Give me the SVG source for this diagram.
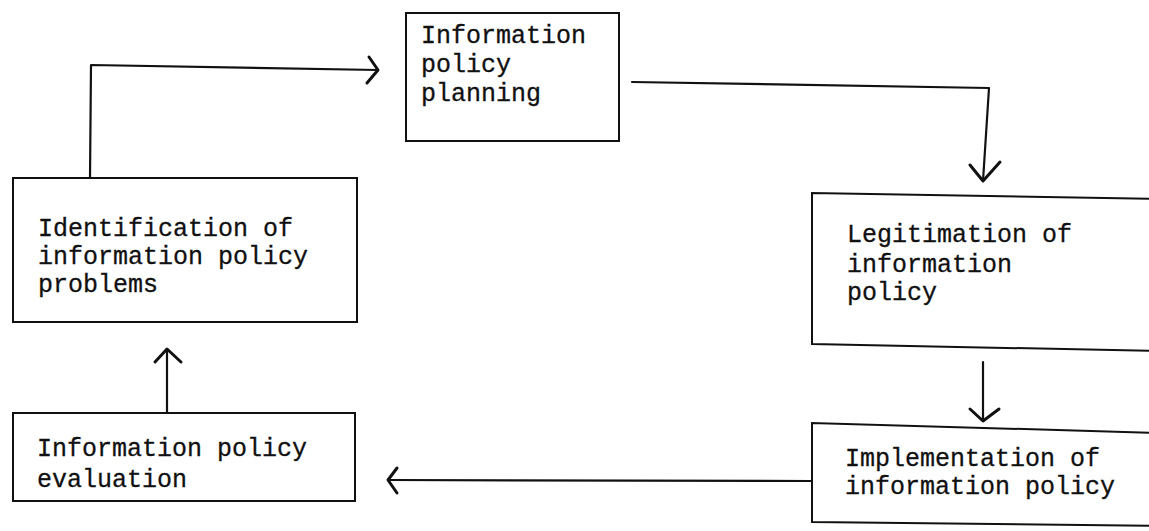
<svg xmlns="http://www.w3.org/2000/svg" width="1149" height="531" viewBox="0 0 1149 531">
<style>
.box{fill:none;stroke:#111;stroke-width:2}
.t{font-family:"Liberation Mono","Courier New",monospace;font-size:25px;fill:#111;stroke:#111;stroke-width:0.3}
.c{fill:none;stroke:#111;stroke-width:2.2;stroke-linecap:round;stroke-linejoin:round}
.h{fill:none;stroke:#111;stroke-width:3;stroke-linecap:round;stroke-linejoin:round}
</style>
<rect width="1149" height="531" fill="#fff"/>
<g id="planning">
<rect class="box" x="406" y="13" width="213" height="128"/>
<text class="t" x="421" y="43">Information</text>
<text class="t" x="421" y="72">policy</text>
<text class="t" x="421" y="101">planning</text>
</g>
<g id="identification">
<rect class="box" x="13" y="178" width="344" height="144"/>
<text class="t" x="38" y="236">Identification of</text>
<text class="t" x="38" y="264">information policy</text>
<text class="t" x="38" y="292">problems</text>
</g>
<g id="legitimation">
<path class="box" d="M1160,199 L812,193 L812,344 L1160,351"/>
<text class="t" x="847" y="242">Legitimation of</text>
<text class="t" x="847" y="272">information</text>
<text class="t" x="847" y="300">policy</text>
</g>
<g id="evaluation">
<rect class="box" x="13" y="413" width="342" height="88"/>
<text class="t" x="37" y="456">Information policy</text>
<text class="t" x="37" y="487">evaluation</text>
</g>
<g id="implementation">
<path class="box" d="M1160,433 L812,423 L812,522 L1160,526"/>
<text class="t" x="845" y="466">Implementation of</text>
<text class="t" x="845" y="494">information policy</text>
</g>
<g id="connectors">
<path class="c" d="M90,178 L91,65 L378,70"/>
<path class="h" d="M369,57 L378,70 L367,83"/>
<path class="c" d="M632,82 L989,88 L983,181"/>
<path class="h" d="M970,165 L983,181 L1000,162"/>
<path class="c" d="M983,362 L983,420"/>
<path class="h" d="M970,409 L983,421 L999,409"/>
<path class="c" d="M812,481 L389,480"/>
<path class="h" d="M397,468 L388,480 L397,493"/>
<path class="c" d="M167,413 L167,350"/>
<path class="h" d="M155,362 L167,349 L181,362"/>
</g>
</svg>
